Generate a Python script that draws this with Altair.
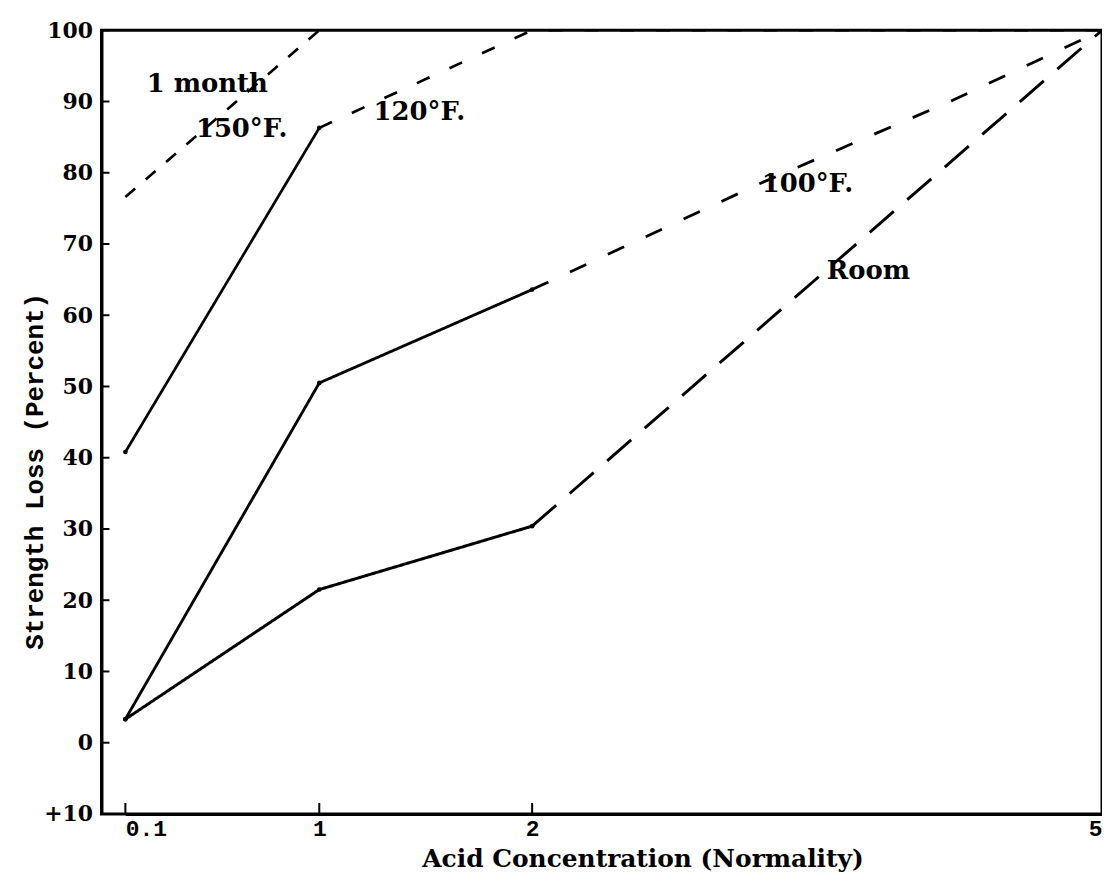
import altair as alt
import pandas as pd

# ---- data ----
room_solid_x = [0.1, 1, 2]
room_solid_y = [3.3, 21.5, 30.4]
room_dash_x = [2, 5]
room_dash_y = [30.4, 100]

f100_solid_x = [0.1, 1, 2]
f100_solid_y = [3.3, 50.5, 63.6]
f100_dash_x = [2, 3.2, 4.2, 5]
f100_dash_y = [63.6, 78.5, 90, 100]

f120_solid_x = [0.1, 1]
f120_solid_y = [40.8, 86.3]
f120_dash_x = [1, 2, 5]
f120_dash_y = [86.3, 100, 100]

f150_dash_x = [0.1, 1]
f150_dash_y = [76.6, 100]

label_text = ["1 month", "150°F.", "120°F.", "100°F.", "Room"]
label_x = [0.48, 0.64, 1.47, 3.45, 3.77]
label_y = [92.5, 86.2, 88.5, 78.4, 66.2]

x_ticks = [0.1, 1, 2, 5]
y_ticks = [-10, 0, 10, 20, 30, 40, 50, 60, 70, 80, 90, 100]

# ---- build tables ----
segments = [
    ("room_solid", room_solid_x, room_solid_y),
    ("room_dash", room_dash_x, room_dash_y),
    ("f100_solid", f100_solid_x, f100_solid_y),
    ("f100_dash", f100_dash_x, f100_dash_y),
    ("f120_solid", f120_solid_x, f120_solid_y),
    ("f120_dash", f120_dash_x, f120_dash_y),
    ("f150_dash", f150_dash_x, f150_dash_y),
]
rows = []
for key, xs, ys in segments:
    for i, (xv, yv) in enumerate(zip(xs, ys)):
        rows.append({"key": key, "i": i, "x": xv, "y": yv})
lines_df = pd.DataFrame(rows)

pts_rows = []
for key, xs, ys in segments:
    if key.endswith("solid"):
        for xv, yv in zip(xs, ys):
            pts_rows.append({"x": xv, "y": yv})
pts_df = pd.DataFrame(pts_rows)

labels_df = pd.DataFrame({"x": label_x, "y": label_y, "t": label_text})
yt_df = pd.DataFrame({"y": y_ticks})
xt_df = pd.DataFrame({"x": x_ticks[:-1]})

W, H = 1006, 788

xscale = alt.Scale(domain=[0.1, 1, 2, 5], range=[24, 219, 433, W], zero=False, nice=False)
yscale = alt.Scale(domain=[-10, 100], zero=False, nice=False)

xaxis = alt.Axis(
    values=x_ticks, format="~g", ticks=False, grid=False,
    domainColor="black", domainWidth=3,
    labelFont="Liberation Mono", labelFontSize=23, labelFontWeight="bold",
    labelColor="black", labelPadding=4,
    labelAlign={"expr": "datum.value < 0.5 ? 'left' : (datum.value > 4 ? 'right' : 'center')"},
    title="Acid Concentration (Normality)",
    titleFont="DejaVu Serif", titleFontSize=25, titleFontWeight="bold", titleColor="black",
    titleX=544, titleY=45, titleBaseline="middle", titleAlign="center",
)
yaxis = alt.Axis(
    values=y_ticks, ticks=False, grid=False,
    domainColor="black", domainWidth=3,
    labelFont="DejaVu Serif", labelFontSize=22, labelFontWeight="bold",
    labelColor="black", labelPadding=9,
    labelExpr="datum.value == -10 ? '+10' : datum.label",
    title="Strength Loss (Percent)",
    titleFont="Liberation Mono", titleFontSize=26, titleFontWeight="bold", titleColor="black",
    titleX=-67, titleY=443, titleBaseline="middle", titleAlign="center", titleAngle=-90,
)

X = alt.X("x:Q", scale=xscale, axis=xaxis)
Y = alt.Y("y:Q", scale=yscale, axis=yaxis)

keys = [k for k, _, _ in segments]
dashes = [[1, 0], [32, 18], [1, 0], [18, 24], [1, 0], [14, 22], [13, 14]]
widths = [3, 2.6, 2.2, 2.6, 2.2, 2.6, 2.6]

lines = alt.Chart(lines_df).mark_line(color="black", strokeCap="butt").encode(
    x=X, y=Y,
    detail="key:N",
    order="i:Q",
    strokeDash=alt.StrokeDash("key:N", scale=alt.Scale(domain=keys, range=dashes), legend=None),
    strokeWidth=alt.StrokeWidth("key:N", scale=alt.Scale(domain=keys, range=widths), legend=None),
)

pts = alt.Chart(pts_df).mark_circle(color="black", size=22, opacity=1).encode(x=X, y=Y)

labels = alt.Chart(labels_df).mark_text(
    font="DejaVu Serif", fontSize=26, fontWeight="bold", color="black", align="center", baseline="middle"
).encode(x=X, y=Y, text="t:N")

yticks = alt.Chart(yt_df).mark_rule(color="black", strokeWidth=2).encode(
    y=Y, x=alt.value(0), x2=alt.value(8)
)
xticks = alt.Chart(xt_df).mark_rule(color="black", strokeWidth=2).encode(
    x=X, y=alt.value(H), y2=alt.value(H - 11)
)

chart = alt.layer(lines, pts, labels, yticks, xticks).properties(
    width=W, height=H,
    padding={"left": 94, "top": 20, "right": 0, "bottom": 62},
    autosize=alt.AutoSizeParams(type="none"),
    background="white",
).configure_view(stroke="black", strokeWidth=3)

chart.save("out.html", embed_options={"renderer": "svg", "actions": False})
